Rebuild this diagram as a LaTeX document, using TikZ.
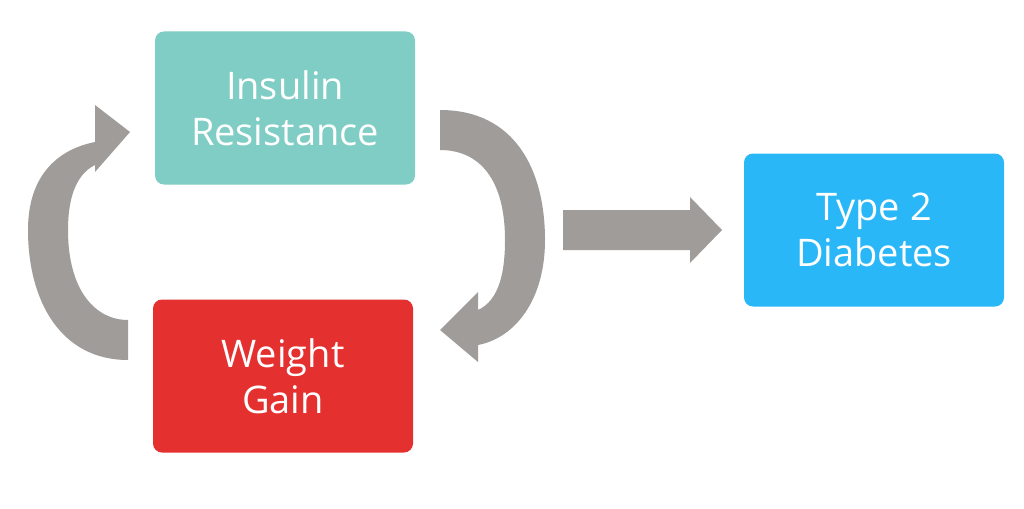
\documentclass[tikz,border=0pt]{standalone}
\usepackage{fontspec}
\setmainfont{Open Sans}
\begin{document}
\begin{tikzpicture}[x=1pt,y=-1pt,
 box/.style={rounded corners=9pt,minimum width=260pt,minimum height=153pt,inner sep=0pt,text=white,align=center,font=\fontsize{38}{46}\selectfont},
 arr/.style={fill=arrgray,draw=none}]
\definecolor{arrgray}{HTML}{A09C9A}
\definecolor{teal}{HTML}{7FCDC4}
\definecolor{red}{HTML}{E53030}
\definecolor{blue}{HTML}{2AB7F7}
\useasboundingbox (0,0) rectangle (1024,508);
\node[box,fill=teal] (ir) at (285,108) {Insulin\\Resistance};
\node[box,fill=red] (wg) at (283,376) {Weight\\Gain};
\node[box,fill=blue] (td) at (874,230) {Type 2\\Diabetes};
% right curved arrow
\path[arr] (440,110) .. controls (515,110) and (545,170) .. (545,240)
 .. controls (545,300) and (515,338) .. (478,345) -- (478,362) -- (440,330) -- (478,292) -- (478,310)
 .. controls (500,300) and (505,270) .. (505,240) .. controls (505,180) and (480,150) .. (440,150) -- cycle;
% left curved arrow
\path[arr] (128,360) .. controls (60,360) and (28,300) .. (28,230)
 .. controls (28,178) and (55,150) .. (95,142) -- (95,105) -- (130,132) -- (95,172) -- (95,165)
 .. controls (75,175) and (68,200) .. (68,230) .. controls (68,290) and (95,320) .. (128,320) -- cycle;
% straight arrow
\path[arr] (563,210) -- (690,210) -- (690,197) -- (722,230) -- (690,263) -- (690,250) -- (563,250) -- cycle;
\end{tikzpicture}
\end{document}
